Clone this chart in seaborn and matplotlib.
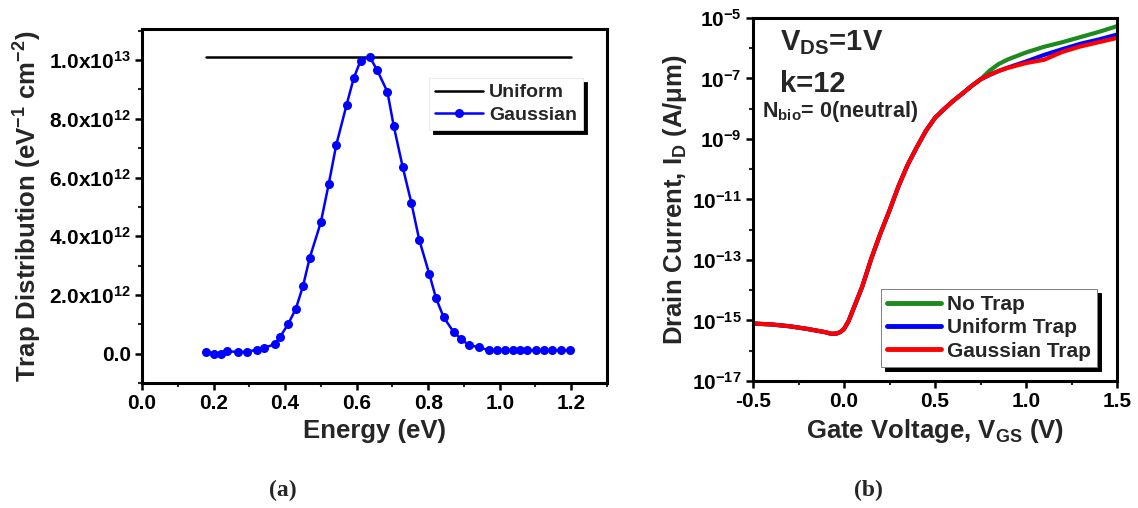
import numpy as np
import pandas as pd
import matplotlib
matplotlib.use("Agg")
import matplotlib.pyplot as plt
import seaborn as sns
from matplotlib.ticker import FuncFormatter, MultipleLocator, FixedLocator

# -------------------------------
# Data
# -------------------------------

# (a) trap distribution vs energy
energy = [0.180, 0.201, 0.222, 0.238, 0.268, 0.293, 0.321, 0.341, 0.371, 0.386,
          0.409, 0.430, 0.450, 0.469, 0.500, 0.522, 0.543, 0.572, 0.592, 0.611,
          0.636, 0.657, 0.686, 0.704, 0.729, 0.753, 0.775, 0.803, 0.822, 0.843,
          0.871, 0.893, 0.915, 0.941, 0.970, 0.993, 1.016, 1.036, 1.057, 1.077,
          1.102, 1.125, 1.146, 1.170, 1.196]
gaussian = [0.06, 0.00, 0.00, 0.08, 0.06, 0.06, 0.14, 0.20, 0.32, 0.57,
            1.02, 1.53, 2.30, 3.27, 4.48, 5.78, 7.11, 8.48, 9.39, 9.98,
            10.12, 9.67, 8.92, 7.74, 6.35, 5.14, 3.88, 2.72, 1.89, 1.25,
            0.74, 0.49, 0.28, 0.23, 0.11, 0.11, 0.11, 0.11, 0.11, 0.11,
            0.11, 0.11, 0.11, 0.11, 0.11]   # x 1e12
uniform_x = [0.18, 1.20]
uniform = [10.1, 10.1]   # x 1e12

# (b) drain current vs gate voltage (log10 of A/um)
vgs_common = [-0.5, -0.4, -0.3, -0.2, -0.1, -0.07, -0.04, -0.02, 0.0, 0.025,
              0.05, 0.1, 0.15, 0.2, 0.25, 0.3, 0.35, 0.4, 0.45, 0.5,
              0.55, 0.6, 0.65, 0.7, 0.75]
log_id_common = [-15.10, -15.13, -15.19, -15.28, -15.39, -15.44, -15.43, -15.38, -15.28, -15.02,
                 -14.64, -13.88, -12.95, -12.12, -11.36, -10.55, -9.85, -9.27, -8.73, -8.30,
                 -8.01, -7.74, -7.50, -7.25, -7.03]
vgs_tail = [0.8, 0.85, 0.9, 1.0, 1.1, 1.2, 1.3, 1.4, 1.5]
log_id_no_trap = [-6.74, -6.52, -6.37, -6.14, -5.95, -5.80, -5.63, -5.46, -5.27]
log_id_uniform = [-6.88, -6.75, -6.64, -6.44, -6.22, -6.03, -5.85, -5.71, -5.55]
log_id_gaussian = [-6.88, -6.75, -6.65, -6.49, -6.38, -6.12, -5.94, -5.80, -5.66]

trap_names = ["No Trap", "Uniform Trap", "Gaussian Trap"]
trap_colors = ["#1c8a1c", "#0000ff", "#ff0000"]

# -------------------------------
# Style
# -------------------------------
sns.set_theme(style="ticks")
plt.rcParams["font.family"] = ["Liberation Sans", "DejaVu Sans"]
plt.rcParams["font.weight"] = "bold"
plt.rcParams["axes.labelweight"] = "bold"
plt.rcParams["mathtext.fontset"] = "custom"
plt.rcParams["mathtext.rm"] = "Liberation Sans:bold"
plt.rcParams["mathtext.bf"] = "Liberation Sans:bold"
plt.rcParams["mathtext.it"] = "Liberation Sans:bold:italic"
plt.rcParams["mathtext.default"] = "bf"

fig = plt.figure(figsize=(11.38, 5.08), dpi=100)
ax1 = fig.add_axes([0.1248, 0.246, 0.4086, 0.6969])
ax2 = fig.add_axes([0.6617, 0.25, 0.3199, 0.7146])

# -------------------------------
# (a) Trap distribution
# -------------------------------
sns.lineplot(x=uniform_x, y=np.array(uniform) * 1e12, ax=ax1, color="black",
             lw=1.8, label="Uniform")
sns.lineplot(x=energy, y=np.array(gaussian) * 1e12, ax=ax1, color="#0000ff",
             lw=1.8, marker="o", markersize=6.5, markeredgewidth=0,
             sort=False, label="Gaussian")

ax1.set_xlim(0, 1.3)
ax1.set_ylim(-1.0e12, 1.106e13)
ax1.xaxis.set_major_locator(MultipleLocator(0.2))
ax1.xaxis.set_minor_locator(MultipleLocator(0.1))
ax1.yaxis.set_major_locator(MultipleLocator(2e12))
ax1.yaxis.set_minor_locator(MultipleLocator(1e12))


def sci_fmt(v, pos):
    if abs(v) < 1:
        return "0.0"
    e = int(np.floor(np.log10(abs(v))))
    m = v / 10 ** e
    return f"{m:.1f}x10$^{{{e}}}$"


ax1.yaxis.set_major_formatter(FuncFormatter(sci_fmt))
ax1.xaxis.set_major_formatter(FuncFormatter(lambda v, p: f"{v:.1f}"))
ax1.set_xlabel("Energy (eV)", fontsize=18.5, labelpad=4)
ax1.set_ylabel("Trap Distribution (eV$^{-1}$ cm$^{-2}$)", fontsize=18.5, labelpad=4)

leg1 = ax1.legend(loc="upper right", bbox_to_anchor=(0.948, 0.862), fontsize=14,
                  frameon=True, fancybox=False, handlelength=2.5,
                  borderpad=0.3, labelspacing=0.25, handletextpad=0.3,
                  borderaxespad=0,
                  shadow={"ox": 3, "oy": -3, "color": "black", "alpha": 1})
leg1.get_frame().set_edgecolor("0.9")
leg1.get_frame().set_linewidth(0.6)
for t in leg1.get_texts():
    t.set_fontweight("bold")

# -------------------------------
# (b) Transfer characteristics
# -------------------------------
rows = []
for name, tail in zip(trap_names, [log_id_no_trap, log_id_uniform, log_id_gaussian]):
    xs = vgs_common + vgs_tail
    ys = log_id_common + tail
    for x, y in zip(xs, ys):
        rows.append({"Vgs": x, "Id": 10.0 ** y, "Trap": name})
df = pd.DataFrame(rows)

sns.lineplot(data=df, x="Vgs", y="Id", hue="Trap", hue_order=trap_names,
             palette=dict(zip(trap_names, trap_colors)), lw=3, ax=ax2)
ax2.set_yscale("log")
ax2.set_xlim(-0.5, 1.5)
ax2.set_ylim(1e-17, 1e-5)
ax2.xaxis.set_major_locator(MultipleLocator(0.5))
ax2.xaxis.set_minor_locator(MultipleLocator(0.25))
ax2.yaxis.set_major_locator(FixedLocator(10.0 ** np.arange(-17, -4, 2)))
ax2.yaxis.set_minor_locator(FixedLocator(10.0 ** np.arange(-16, -5, 2)))
ax2.yaxis.set_major_formatter(FuncFormatter(lambda v, p: f"10$^{{{int(round(np.log10(v)))}}}$"))
ax2.yaxis.set_minor_formatter(FuncFormatter(lambda v, p: ""))
ax2.xaxis.set_major_formatter(FuncFormatter(lambda v, p: f"{v:.1f}"))
ax2.set_xlabel("Gate Voltage, V$_{GS}$ (V)", fontsize=18.5, labelpad=4)
ax2.set_ylabel("Drain Current, I$_{D}$ (A/\u03bcm)", fontsize=18.5, labelpad=2)

ax2.text(0.074, 0.912, "V$_{DS}$=1V", transform=ax2.transAxes, fontsize=21,
         fontweight="bold", va="baseline")
ax2.text(0.074, 0.796, "k=12", transform=ax2.transAxes, fontsize=21,
         fontweight="bold", va="baseline")
ax2.text(0.025, 0.728, "N$_{bio}$= 0(neutral)", transform=ax2.transAxes,
         fontsize=15.5, fontweight="bold", va="baseline")

leg2 = ax2.legend(loc="lower right", bbox_to_anchor=(0.945, 0.039), fontsize=15,
                  frameon=True, fancybox=False, handlelength=2.55,
                  borderpad=0.3, labelspacing=0.2, handletextpad=0.3,
                  borderaxespad=0, title=None,
                  shadow={"ox": 3, "oy": -3, "color": "black", "alpha": 1})
leg2.get_frame().set_edgecolor("0.5")
leg2.get_frame().set_linewidth(0.7)
for t in leg2.get_texts():
    t.set_fontweight("bold")
for h in leg2.get_lines():
    h.set_linewidth(3.5)

# -------------------------------
# Shared axis styling
# -------------------------------
for ax in (ax1, ax2):
    for s in ax.spines.values():
        s.set_visible(True)
        s.set_linewidth(2.2)
        s.set_color("black")
    ax.tick_params(which="major", direction="out", length=5, width=1.8,
                   labelsize=15, colors="black", top=False, right=False, pad=3)
    ax.tick_params(which="minor", direction="out", length=3, width=1.5,
                   top=False, right=False)
    for lbl in ax.get_xticklabels() + ax.get_yticklabels():
        lbl.set_fontweight("bold")

fig.text(283 / 1138, 1 - 490 / 508, "(a)", ha="center", va="center",
         family=["Liberation Serif", "DejaVu Serif"], fontweight="bold", fontsize=17)
fig.text(868 / 1138, 1 - 490 / 508, "(b)", ha="center", va="center",
         family=["Liberation Serif", "DejaVu Serif"], fontweight="bold", fontsize=17)

fig.savefig("out.png", dpi=100)
